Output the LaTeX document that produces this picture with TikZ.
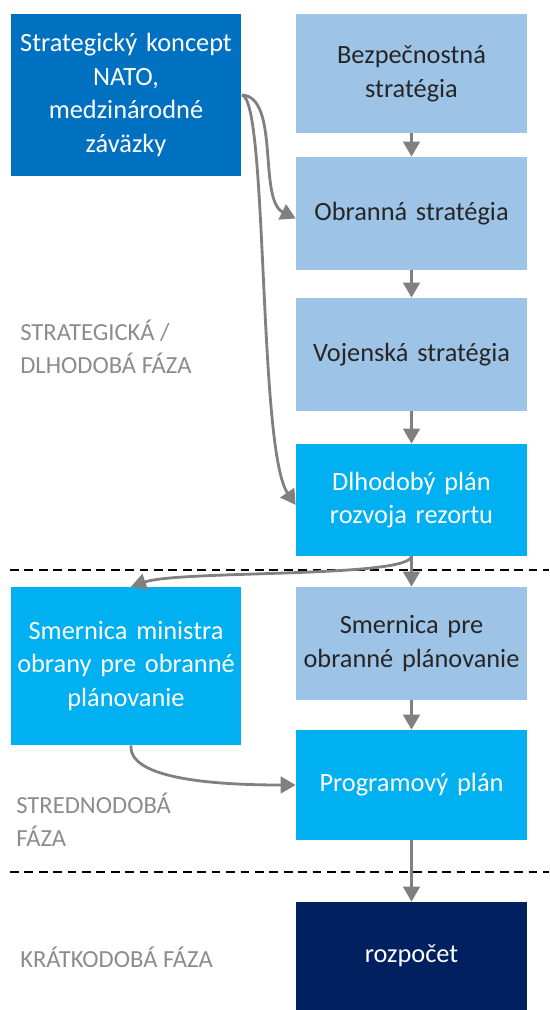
\documentclass[tikz,border=0pt]{standalone}
\usepackage{fontspec}
\setmainfont{Carlito}
\usepackage{xcolor}
\usepackage{tikz}
\usetikzlibrary{arrows.meta, positioning}
\definecolor{natoblue}{HTML}{0070C0}
\definecolor{paleblue}{HTML}{9DC3E6}
\definecolor{skyblue}{HTML}{00B0F0}
\definecolor{navyblue}{HTML}{002060}
\definecolor{fazagray}{HTML}{8C8C8C}
\tikzset{
  box/.style={rectangle, inner sep=2pt, minimum width=4.62cm, text width=4.4cm,
              align=center, font=\fontsize{15}{19.2}\selectfont},
  pale/.style={box, fill=paleblue, text=black!85},
  sky/.style={box, fill=skyblue, text=white},
  nat/.style={box, fill=natoblue, text=white},
  navy/.style={box, fill=navyblue, text=white},
  faza/.style={anchor=west, align=left, inner sep=0pt, text=fazagray,
               font=\fontsize{14}{18.6}\selectfont},
  ar/.style={line width=1.6pt, draw=gray, -{Triangle[length=3mm, width=3.3mm]}},
  sep/.style={line width=1.1pt, dashed, dash pattern=on 5pt off 3.2pt},
}
\begin{document}
\begin{tikzpicture}[x=0.02cm, y=-0.02cm]
  \useasboundingbox (0,0) rectangle (549,1010);
  \node[nat, minimum height=3.24cm] (nato) at (126,95) {Strategický koncept\\NATO,\\medzinárodné\\záväzky};
  \node[pale, minimum height=2.38cm] (bezp) at (411.5,73.5) {Bezpečnostná\\stratégia};
  \node[pale, minimum height=2.26cm] (obr) at (411.5,213.5) {Obranná stratégia};
  \node[pale, minimum height=2.26cm] (voj) at (411.5,354.5) {Vojenská stratégia};
  \node[sky, minimum height=2.24cm] (dlh) at (411.5,500) {Dlhodobý plán\\rozvoja rezortu};
  \node[sky, minimum height=3.16cm] (smm) at (126,666) {Smernica ministra\\obrany pre obranné\\plánovanie};
  \node[pale, minimum height=2.26cm] (smp) at (411.5,643.5) {Smernica pre\\obranné plánovanie};
  \node[sky, minimum height=2.2cm] (prog) at (411.5,785) {Programový plán};
  \node[navy, minimum height=2.16cm] (rozp) at (411.5,956) {rozpočet};
  % faze
  \node[faza] (f1) at (20,347) {STRATEGICKÁ /\\DLHODOBÁ FÁZA};
  \node[faza] (f2) at (16,820) {STREDNODOBÁ\\FÁZA};
  \node[faza] (f3) at (20,957) {KRÁTKODOBÁ FÁZA};
  % hranice
  \coordinate (s1a) at (10,570); \coordinate (s1b) at (549,570);
  \coordinate (s2a) at (10,872); \coordinate (s2b) at (549,872);
  \draw[sep] (s1a) -- (s1b);
  \draw[sep] (s2a) -- (s2b);
  % sipky
  \draw[ar] (bezp) -- (obr);
  \draw[ar] (obr) -- (voj);
  \draw[ar] (voj) -- (dlh);
  \draw[ar] (dlh) -- (smp);
  \draw[ar] (smp) -- (prog);
  \draw[ar] (prog) -- (rozp);
  \coordinate (natoout) at (242,95);
  \draw[ar] (natoout) .. controls (280,97) and (258,200) .. ([yshift=-0.1cm]obr.west);
  \draw[ar] (natoout) .. controls (268,100) and (258,450) .. ([yshift=-0.1cm]dlh.west);
  \draw[ar] (dlh.south) .. controls (408,578) and (180,570) .. ([xshift=0.1cm]smm.north);
  \draw[ar] ([xshift=0.1cm]smm.south) .. controls (128,780) and (220,785) .. (prog.west);
\end{tikzpicture}
\end{document}
